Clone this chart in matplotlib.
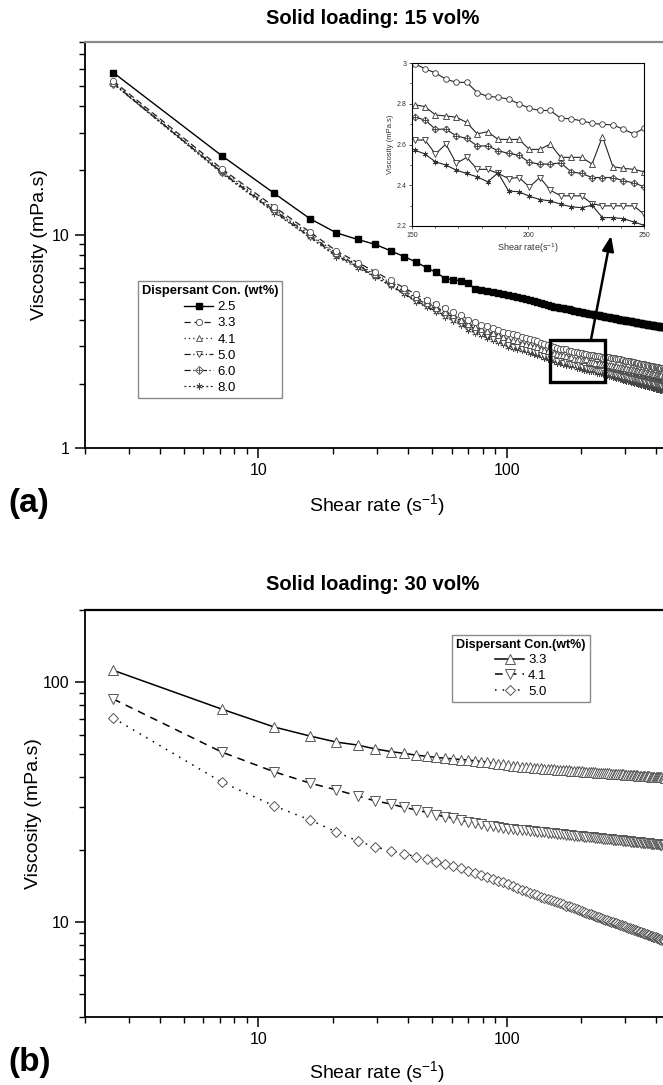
import numpy as np
import matplotlib
matplotlib.use('Agg')
import matplotlib.pyplot as plt
from matplotlib.patches import Rectangle
from matplotlib.ticker import LogLocator, NullFormatter

plt.rcParams['font.family'] = ['Liberation Sans', 'DejaVu Sans']
plt.rcParams['mathtext.fontset'] = 'custom'
plt.rcParams['mathtext.rm'] = 'Liberation Sans'
plt.rcParams['mathtext.it'] = 'Liberation Sans:italic'

# shear rate sweep (s^-1), same for every sample
shear_rate = [2.6, 7.1, 11.6, 16.1, 20.6, 25.1, 29.6, 34.1, 38.6, 43.1,
              47.6, 52.1, 56.6, 61.1, 65.6, 70.1, 74.6, 79.1, 83.6, 88.1,
              92.6, 97.1, 101.6, 106.1, 110.6, 115.1, 119.6, 124.1, 128.6, 133.1,
              137.6, 142.1, 146.6, 151.1, 155.6, 160.1, 164.6, 169.1, 173.6, 178.1,
              182.6, 187.1, 191.6, 196.1, 200.6, 205.1, 209.6, 214.1, 218.6, 223.1,
              227.6, 232.1, 236.6, 241.1, 245.6, 250.1, 254.6, 259.1, 263.6, 268.1,
              272.6, 277.1, 281.6, 286.1, 290.6, 295.1, 299.6, 304.1, 308.6, 313.1,
              317.6, 322.1, 326.6, 331.1, 335.6, 340.1, 344.6, 349.1, 353.6, 358.1,
              362.6, 367.1, 371.6, 376.1, 380.6, 385.1, 389.6, 394.1, 398.6, 403.1,
              407.6, 412.1, 416.6, 421.1, 425.6, 430.1, 434.6]

# ---- (a) solid loading 15 vol% ----
visc_a_25 = [57.5, 23.5, 15.6, 11.9, 10.2, 9.5, 9.0, 8.4, 7.9, 7.45, 7.0, 6.65, 6.22, 6.15,
             6.08, 5.95, 5.55, 5.5, 5.46, 5.38, 5.32, 5.25, 5.2,
             5.15, 5.09, 5.04, 4.99, 4.94, 4.88, 4.83, 4.78, 4.73, 4.67, 4.62,
             4.59, 4.57, 4.54, 4.51, 4.49, 4.46, 4.43, 4.41, 4.38, 4.36, 4.33,
             4.31, 4.29, 4.27, 4.25, 4.23, 4.22, 4.20, 4.18, 4.16, 4.14, 4.12,
             4.11, 4.09, 4.08, 4.06, 4.05, 4.03, 4.02, 4.00, 3.99, 3.97, 3.96,
             3.95, 3.94, 3.93, 3.92, 3.91, 3.89, 3.88, 3.87, 3.86, 3.85, 3.84,
             3.83, 3.82, 3.81, 3.80, 3.79, 3.79, 3.78, 3.77, 3.76, 3.75, 3.74,
             3.73, 3.72, 3.72, 3.71, 3.70, 3.69, 3.69, 3.68]
visc_a_33 = [52.5, 20.4, 13.5, 10.3, 8.4, 7.4, 6.7, 6.1, 5.64, 5.25, 4.95, 4.72, 4.52, 4.35,
             4.18, 4.0, 3.88, 3.79, 3.72, 3.65, 3.58, 3.51, 3.45,
             3.41, 3.37, 3.33, 3.29, 3.25, 3.21, 3.17, 3.12, 3.08, 3.04,
             2.997, 2.972, 2.951, 2.921, 2.905, 2.905, 2.855, 2.836, 2.832, 2.823, 2.800,
             2.778, 2.767, 2.767, 2.729, 2.726, 2.716, 2.704, 2.699, 2.696, 2.675, 2.652, 2.680,
             2.67, 2.66, 2.65, 2.64, 2.63, 2.62, 2.61, 2.60, 2.59, 2.58, 2.57,
             2.562, 2.554, 2.545, 2.537, 2.529, 2.521, 2.513, 2.505, 2.496, 2.488, 2.48,
             2.473, 2.465, 2.458, 2.451, 2.444, 2.436, 2.429, 2.422, 2.415, 2.407, 2.40,
             2.394, 2.388, 2.381, 2.375, 2.369, 2.363, 2.356, 2.35]
visc_a_41 = [51.5, 20.0, 13.2, 10.05, 8.2, 7.25, 6.55, 5.95, 5.48, 5.08, 4.78, 4.55, 4.35, 4.18,
             4.0, 3.82, 3.70, 3.60, 3.53, 3.46, 3.38, 3.31, 3.24,
             3.20, 3.16, 3.12, 3.08, 3.05, 3.01, 2.97, 2.92, 2.88, 2.84,
             2.795, 2.786, 2.745, 2.740, 2.734, 2.708, 2.652, 2.663, 2.625, 2.625, 2.625,
             2.576, 2.576, 2.602, 2.537, 2.537, 2.537, 2.504, 2.639, 2.491, 2.483, 2.478, 2.466,
             2.457, 2.449, 2.44, 2.431, 2.423, 2.414, 2.405, 2.396, 2.388, 2.379, 2.37,
             2.363, 2.355, 2.348, 2.341, 2.334, 2.326, 2.319, 2.312, 2.305, 2.297, 2.29,
             2.284, 2.277, 2.271, 2.265, 2.258, 2.252, 2.245, 2.239, 2.233, 2.226, 2.22,
             2.214, 2.208, 2.201, 2.195, 2.189, 2.183, 2.176, 2.17]
visc_a_50 = [51.3, 19.6, 12.8, 9.8, 8.0, 7.08, 6.38, 5.8, 5.3, 4.91, 4.61, 4.38, 4.17, 3.99,
             3.82, 3.64, 3.51, 3.41, 3.34, 3.26, 3.18, 3.10, 3.04,
             2.99, 2.96, 2.92, 2.89, 2.85, 2.82, 2.78, 2.74, 2.70, 2.67,
             2.622, 2.622, 2.553, 2.602, 2.507, 2.537, 2.478, 2.478, 2.458, 2.433, 2.438,
             2.392, 2.438, 2.376, 2.348, 2.348, 2.348, 2.310, 2.299, 2.299, 2.299, 2.299, 2.257,
             2.247, 2.238, 2.228, 2.218, 2.209, 2.199, 2.189, 2.179, 2.17, 2.16, 2.15,
             2.142, 2.134, 2.125, 2.117, 2.109, 2.101, 2.093, 2.085, 2.076, 2.068, 2.06,
             2.054, 2.047, 2.041, 2.035, 2.028, 2.022, 2.015, 2.009, 2.003, 1.996, 1.99,
             1.984, 1.978, 1.971, 1.965, 1.959, 1.953, 1.946, 1.94]
visc_a_60 = [51.0, 19.7, 13.0, 9.95, 8.1, 7.18, 6.48, 5.9, 5.42, 5.02, 4.72, 4.49, 4.28, 4.11,
             3.94, 3.76, 3.63, 3.54, 3.46, 3.38, 3.31, 3.23, 3.17,
             3.12, 3.08, 3.05, 3.01, 2.97, 2.94, 2.90, 2.85, 2.82, 2.78,
             2.734, 2.721, 2.675, 2.675, 2.642, 2.630, 2.593, 2.593, 2.570, 2.556, 2.548,
             2.512, 2.504, 2.504, 2.510, 2.466, 2.458, 2.438, 2.438, 2.438, 2.422, 2.412, 2.392,
             2.384, 2.375, 2.367, 2.358, 2.35, 2.342, 2.333, 2.325, 2.316, 2.308, 2.30,
             2.293, 2.285, 2.278, 2.271, 2.264, 2.256, 2.249, 2.242, 2.235, 2.227, 2.22,
             2.214, 2.207, 2.201, 2.195, 2.188, 2.182, 2.175, 2.169, 2.163, 2.156, 2.15,
             2.144, 2.138, 2.131, 2.125, 2.119, 2.113, 2.106, 2.10]
visc_a_80 = [51.0, 19.4, 12.7, 9.7, 7.9, 7.0, 6.32, 5.75, 5.25, 4.86, 4.56, 4.32, 4.12, 3.95,
             3.77, 3.59, 3.47, 3.37, 3.29, 3.21, 3.14, 3.06, 2.99,
             2.94, 2.90, 2.87, 2.84, 2.80, 2.77, 2.73, 2.69, 2.65, 2.62,
             2.573, 2.553, 2.515, 2.499, 2.474, 2.458, 2.441, 2.417, 2.461, 2.372, 2.368,
             2.346, 2.330, 2.323, 2.307, 2.294, 2.290, 2.302, 2.241, 2.241, 2.236, 2.220, 2.203,
             2.192, 2.181, 2.169, 2.158, 2.147, 2.136, 2.125, 2.114, 2.102, 2.091, 2.08,
             2.071, 2.062, 2.053, 2.044, 2.035, 2.025, 2.016, 2.007, 1.998, 1.989, 1.98,
             1.973, 1.965, 1.958, 1.951, 1.944, 1.936, 1.929, 1.922, 1.915, 1.907, 1.90,
             1.894, 1.888, 1.881, 1.875, 1.869, 1.863, 1.856, 1.85]

# ---- (b) solid loading 30 vol% ----
visc_b_33 = [112, 77.2, 64.9, 59.6, 56.2, 54.6, 52.6, 51.3, 50.4, 49.6, 49.0, 48.5, 48.1, 47.8,
             47.5, 47.3, 46.9, 46.6, 46.3, 45.9, 45.6, 45.3, 44.95, 44.7, 44.45, 44.3,
             44.17, 44.04, 43.92, 43.80, 43.69, 43.58, 43.47, 43.37, 43.27, 43.17,
             43.08, 42.99, 42.90, 42.82, 42.73, 42.65, 42.57, 42.50, 42.42, 42.35,
             42.28, 42.21, 42.14, 42.07, 42.01, 41.94, 41.88, 41.82, 41.76, 41.70,
             41.64, 41.58, 41.53, 41.47, 41.42, 41.37, 41.32, 41.27, 41.22, 41.17,
             41.12, 41.07, 41.02, 40.98, 40.93, 40.89, 40.84, 40.80, 40.76, 40.71,
             40.67, 40.63, 40.59, 40.55, 40.51, 40.47, 40.44, 40.40, 40.36, 40.32,
             40.29, 40.25, 40.22, 40.18, 40.15, 40.11, 40.08, 40.04, 40.01, 39.98,
             39.95]
visc_b_41 = [85, 51.1, 42.2, 37.9, 35.5, 33.5, 31.9, 31.0, 30.0, 29.3, 28.6, 27.9, 27.4, 27.0,
             26.6, 26.1, 25.8, 25.5, 25.2, 25.0, 24.8, 24.6, 24.45, 24.35, 24.25, 24.15,
             24.05, 23.95, 23.86, 23.77, 23.68, 23.60, 23.52, 23.44, 23.36, 23.29,
             23.22, 23.15, 23.08, 23.02, 22.95, 22.89, 22.83, 22.78, 22.72, 22.66,
             22.61, 22.56, 22.51, 22.46, 22.41, 22.36, 22.31, 22.27, 22.22, 22.18,
             22.13, 22.09, 22.05, 22.01, 21.97, 21.93, 21.89, 21.85, 21.82, 21.78,
             21.74, 21.71, 21.67, 21.64, 21.60, 21.57, 21.54, 21.51, 21.47, 21.44,
             21.41, 21.38, 21.35, 21.32, 21.29, 21.27, 21.24, 21.21, 21.18, 21.15,
             21.13, 21.10, 21.08, 21.05, 21.03, 21.00, 20.97, 20.95, 20.93, 20.90,
             20.88]
visc_b_50 = [70.8, 38.3, 30.4, 26.6, 23.7, 21.7, 20.5, 19.8, 19.2, 18.7, 18.2, 17.8, 17.4, 17.0,
             16.7, 16.3, 16.0, 15.7, 15.4, 15.1, 14.8, 14.6, 14.3, 14.1, 13.85, 13.6,
             13.41, 13.23, 13.05, 12.89, 12.73, 12.58, 12.44, 12.30, 12.16, 12.04,
             11.91, 11.80, 11.68, 11.57, 11.47, 11.36, 11.26, 11.17, 11.07, 10.98,
             10.89, 10.81, 10.73, 10.65, 10.57, 10.49, 10.42, 10.34, 10.27, 10.21,
             10.14, 10.07, 10.01, 9.95, 9.89, 9.83, 9.77, 9.71, 9.65, 9.60,
             9.55, 9.49, 9.44, 9.39, 9.34, 9.29, 9.25, 9.20, 9.15, 9.11,
             9.06, 9.02, 8.98, 8.94, 8.90, 8.85, 8.81, 8.78, 8.74, 8.70,
             8.66, 8.63, 8.59, 8.55, 8.52, 8.48, 8.45, 8.42, 8.38, 8.35,
             8.32]

x = np.array(shear_rate)

fig = plt.figure(figsize=(6.63, 10.85), dpi=100)
W, H = 663, 1085


def px_axes(left, top, right, bottom):
    return fig.add_axes([left / W, 1 - bottom / H, (right - left) / W, (bottom - top) / H])


def style_log_axes(ax, ylim, yticks, top_color):
    ax.set_xscale('log')
    ax.set_yscale('log')
    ax.set_xlim(2, 500)
    ax.set_ylim(*ylim)
    ax.set_xticks([10, 100], labels=['10', '100'])
    ax.set_yticks(yticks, labels=[str(t) for t in yticks])
    for axis in (ax.xaxis, ax.yaxis):
        axis.set_minor_locator(LogLocator(base=10, subs=np.arange(2, 10), numticks=20))
        axis.set_minor_formatter(NullFormatter())
    ax.tick_params(which='major', direction='out', length=7, width=1.1, labelsize=11.5, pad=4)
    ax.tick_params(which='minor', direction='out', length=4, width=1.0)
    ax.spines['right'].set_visible(False)
    ax.spines['top'].set_color(top_color)
    ax.spines['top'].set_linewidth(1.6)
    for s in ('left', 'bottom'):
        ax.spines[s].set_linewidth(1.3)
    ax.set_xlabel('Shear rate (s$^{-1}$)', fontsize=14)
    ax.set_ylabel('Viscosity (mPa.s)', fontsize=14)


# ================= panel (a) =================
ax_a = px_axes(85, 42, 680, 448)
style_log_axes(ax_a, (1, 80), [1, 10], '#8a8a8a')
ax_a.xaxis.set_label_coords((377 - 85) / 595, -0.108)
ax_a.yaxis.set_label_coords(-0.062, 0.5)

open_kw = dict(mfc='white', mec='#444444', mew=0.6, ms=4.5, lw=0.9, color='#222222')

h80, = ax_a.plot(x, visc_a_80, ls=(0, (1.5, 2)), marker=(6, 2, 0), **open_kw)
h60, = ax_a.plot(x, visc_a_60, ls=(0, (5, 2, 1, 2, 1, 2)), marker='D', **{**open_kw, 'ms': 3.8})
h60p, = ax_a.plot(x, visc_a_60, ls='none', marker='+', mec='#444444', mew=0.6, ms=4.5)
h50, = ax_a.plot(x, visc_a_50, ls=(0, (5, 2, 1, 2)), marker='v', **open_kw)
h41, = ax_a.plot(x, visc_a_41, ls=(0, (1, 2.5)), marker='^', **open_kw)
h33, = ax_a.plot(x, visc_a_33, ls=(0, (5, 3)), marker='o', **open_kw)
h25, = ax_a.plot(x, visc_a_25, ls='-', color='black', lw=1.0, marker='s', ms=4,
                 mfc='black', mec='black')

leg_a = ax_a.legend([h25, h33, h41, h50, (h60, h60p), h80],
                    ['2.5', '3.3', '4.1', '5.0', '6.0', '8.0'],
                    title='Dispersant Con. (wt%)', loc='lower left',
                    bbox_to_anchor=(0.089, 0.123), borderaxespad=0,
                    fontsize=9.5, title_fontproperties={'weight': 'bold', 'size': 9.3},
                    handlelength=2.2, handletextpad=0.3, labelspacing=0.3,
                    borderpad=0.3, alignment='center', fancybox=False, framealpha=1)
leg_a.get_frame().set_edgecolor('#8a8a8a')
leg_a.get_frame().set_linewidth(1.0)

# zoom box and inset (150-250 s^-1)
ax_a.add_patch(Rectangle((150, 2.03), 100, 1.18, fill=False, lw=2.4, ec='black', zorder=5))

ax_in = px_axes(412, 63, 644, 226)
in_mask = (x >= 150) & (x <= 251)
in_kw = dict(color='#222222', lw=0.8, mfc='white', mec='#333333', mew=0.6, ms=4)
ax_in.plot(x[in_mask], np.array(visc_a_33)[in_mask], marker='o', **in_kw)
ax_in.plot(x[in_mask], np.array(visc_a_41)[in_mask], marker='^', **in_kw)
ax_in.plot(x[in_mask], np.array(visc_a_60)[in_mask], marker='D', **{**in_kw, 'ms': 3.5})
ax_in.plot(x[in_mask], np.array(visc_a_60)[in_mask], ls='none', marker='+', mec='#333333',
           mew=0.6, ms=4)
ax_in.plot(x[in_mask], np.array(visc_a_50)[in_mask], marker='v', **in_kw)
ax_in.plot(x[in_mask], np.array(visc_a_80)[in_mask], marker=(6, 2, 0), **in_kw)
ax_in.set_xlim(150, 250)
ax_in.set_ylim(2.2, 3.0)
ax_in.set_xticks([150, 200, 250])
ax_in.set_xticks(np.arange(160, 250, 10), minor=True)
ax_in.set_yticks([2.2, 2.4, 2.6, 2.8, 3.0], labels=['2.2', '2.4', '2.6', '2.8', '3'])
ax_in.set_yticks(np.arange(2.3, 3.0, 0.2), minor=True)
ax_in.tick_params(which='major', length=2.5, width=0.6, labelsize=5, pad=1.5,
                  colors='#333333')
ax_in.tick_params(which='minor', length=1.5, width=0.5)
for s in ax_in.spines.values():
    s.set_linewidth(0.8)
ax_in.set_xlabel('Shear rate(s$^{-1}$)', fontsize=6.5, labelpad=2, color='#333333')
ax_in.set_ylabel('Viscosity (mPa.s)', fontsize=5.5, labelpad=2, color='#333333')

ax_a.annotate('', xy=(0.858, -0.06), xycoords=ax_in.transAxes,
              xytext=(219, 3.23), textcoords='data',
              arrowprops=dict(arrowstyle='-|>,head_length=0.9,head_width=0.35',
                              lw=1.8, color='black', shrinkA=0, shrinkB=0))

fig.text(373 / W, 1 - 18 / H, 'Solid loading: 15 vol%', ha='center', va='center',
         fontsize=14.5, fontweight='bold')
fig.text(8 / W, 1 - 503 / H, '(a)', ha='left', va='center', fontsize=24, fontweight='bold')

# ================= panel (b) =================
ax_b = px_axes(85, 610, 680, 1017)
style_log_axes(ax_b, (4, 200), [10, 100], 'black')
ax_b.xaxis.set_label_coords((377 - 85) / 595, -0.103)
ax_b.yaxis.set_label_coords(-0.072, 0.5)

b_kw = dict(color='black', lw=1.1, mfc='white', mec='#555555', mew=0.7)
hb33, = ax_b.plot(x, visc_b_33, ls='-', marker='^', ms=7, **b_kw)
hb41, = ax_b.plot(x, visc_b_41, ls=(0, (5, 4)), marker='v', ms=7, **b_kw)
hb50, = ax_b.plot(x, visc_b_50, ls=(0, (1, 4)), marker='D', ms=5.5, **b_kw)

leg_b = ax_b.legend([hb33, hb41, hb50], ['3.3', '4.1', '5.0'],
                    title='Dispersant Con.(wt%)', loc='upper left',
                    bbox_to_anchor=(0.617, 0.9386), borderaxespad=0,
                    fontsize=9.5, title_fontproperties={'weight': 'bold', 'size': 9},
                    handlelength=2.2, handletextpad=0.3, labelspacing=0.25,
                    borderpad=0.3, alignment='center', fancybox=False, framealpha=1)
leg_b.get_frame().set_edgecolor('#8a8a8a')
leg_b.get_frame().set_linewidth(1.0)

fig.text(373 / W, 1 - 585 / H, 'Solid loading: 30 vol%', ha='center', va='center',
         fontsize=14.5, fontweight='bold')
fig.text(8 / W, 1 - 1063 / H, '(b)', ha='left', va='center', fontsize=24, fontweight='bold')

fig.savefig('out.png', dpi=100)
